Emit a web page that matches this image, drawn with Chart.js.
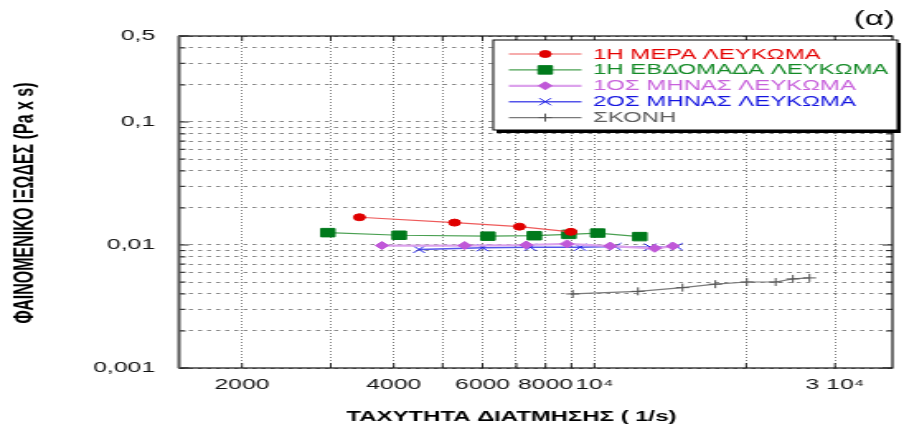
<!DOCTYPE html>
<html>
<head>
<meta charset="utf-8">
<script src="https://cdn.jsdelivr.net/npm/chart.js@4.4.1/dist/chart.umd.min.js"></script>
<style>
    html, body { margin: 0; padding: 0; background: #fff; overflow: hidden; }
    #chart { display: block; }
</style>
</head>
<body>
<!-- the original figure is stretched sideways, so the canvas is drawn narrow and widened by css -->
<canvas id="chart" width="548" height="432" style="width:904px;height:432px"></canvas>
<script>
// ── Data: shear rate (1/s) / apparent viscosity (Pa s) ──
const seriesLabels = ['1Η ΜΕΡΑ ΛΕΥΚΩΜΑ', '1Η ΕΒΔΟΜΑΔΑ ΛΕΥΚΩΜΑ', '1ΟΣ ΜΗΝΑΣ ΛΕΥΚΩΜΑ', '2ΟΣ ΜΗΝΑΣ ΛΕΥΚΩΜΑ', 'ΣΚΟΝΗ'];

const dayX    = [3420, 5280, 7100, 8980];
const dayY    = [0.0168, 0.0152, 0.0141, 0.0128];
const weekX   = [2960, 4100, 6150, 7600, 8900, 10150, 12300];
const weekY   = [0.0126, 0.0120, 0.0118, 0.0119, 0.0122, 0.0125, 0.0117];
const month1X = [3790, 5530, 7320, 8820, 10740, 13170, 14300];
const month1Y = [0.0099, 0.0099, 0.0100, 0.0102, 0.0098, 0.0094, 0.0098];
const month2X = [4490, 6000, 7460, 9370, 11000, 12900, 14560];
const month2Y = [0.0092, 0.0095, 0.0096, 0.0096, 0.0097, 0.0096, 0.0097];
const powderX = [9060, 12200, 14950, 17370, 20060, 22880, 24750, 26700];
const powderY = [0.0040, 0.0042, 0.0045, 0.0048, 0.0050, 0.0050, 0.0053, 0.0054];

const xTickValues = [2000, 3000, 4000, 5000, 6000, 7000, 8000, 9000, 10000, 20000, 30000];
const xTickLabels = ['2000', '', '4000', '', '6000', '', '8000', '', '10⁴', '', '3 10⁴'];
const yTickValues = [0.001, 0.002, 0.003, 0.004, 0.005, 0.006, 0.007, 0.008, 0.009,
                     0.01, 0.02, 0.03, 0.04, 0.05, 0.06, 0.07, 0.08, 0.09,
                     0.1, 0.2, 0.3, 0.4, 0.5];
const yTickLabels = ['0,001', '', '', '', '', '', '', '', '',
                     '0,01', '', '', '', '', '', '', '', '',
                     '0,1', '', '', '', '0,5'];

const legendTextColors = ['#e40000', '#138a26', '#c862dc', '#1414e0', '#5e5e5e'];

const FONT = '"Liberation Sans", Arial, sans-serif';

const zip = (xs, ys) => xs.map((x, i) => ({ x: x, y: ys[i] }));

function series(label, xs, ys, line, marker, style, radius, lineWidth) {
    return {
        label: label,
        data: zip(xs, ys),
        showLine: true,
        borderColor: line,
        borderWidth: lineWidth,
        pointStyle: style,
        pointRadius: radius,
        pointHoverRadius: radius,
        pointBackgroundColor: marker,
        pointBorderColor: marker,
        pointBorderWidth: 1,
    };
}

// frame, inside tick marks, titles
const framePlugin = {
    id: 'frame',
    afterDatasetsDraw(chart) {
        const { ctx, chartArea: a, scales: { x, y } } = chart;
        ctx.save();
        ctx.strokeStyle = '#222';
        ctx.lineWidth = 1;
        ctx.beginPath();
        y.ticks.forEach((t, i) => {
            const py = y.getPixelForValue(t.value);
            const len = yTickLabels[i] ? 6 : 4;
            ctx.moveTo(a.left, py); ctx.lineTo(a.left + len, py);
            ctx.moveTo(a.right, py); ctx.lineTo(a.right - len, py);
        });
        x.ticks.forEach(t => {
            const px = x.getPixelForValue(t.value);
            ctx.moveTo(px, a.top); ctx.lineTo(px, a.top + 5);
            ctx.moveTo(px, a.bottom); ctx.lineTo(px, a.bottom - 5);
        });
        ctx.stroke();

        ctx.lineWidth = 1.2;
        ctx.strokeStyle = '#111';
        ctx.strokeRect(a.left, a.top, a.right - a.left, a.bottom - a.top);
        ctx.lineWidth = 1.8;
        ctx.strokeStyle = '#555';
        ctx.beginPath();
        ctx.moveTo(a.left, a.top); ctx.lineTo(a.left, a.bottom);
        ctx.stroke();
        ctx.restore();
    },
    afterDraw(chart) {
        const ctx = chart.ctx;
        ctx.save();
        ctx.fillStyle = '#000';
        ctx.textAlign = 'center';
        ctx.textBaseline = 'middle';
        ctx.font = 'bold 14.5px ' + FONT;
        ctx.fillText('ΤΑΧΥΤΗΤΑ ΔΙΑΤΜΗΣΗΣ ( 1/s)', 310, 417);
        ctx.font = '20px ' + FONT;
        ctx.fillText('(α)', 530, 19);
        ctx.translate(15.5, 203);
        ctx.rotate(-Math.PI / 2);
        ctx.font = 'bold 16px ' + FONT;
        ctx.fillText('ΦΑΙΝΟΜΕΝΙΚΟ ΙΞΩΔΕΣ (Pa x s)', 0, 0);
        ctx.restore();
    }
};

// legend box with a line sample and the marker in its middle
const legendPlugin = {
    id: 'boxLegend',
    afterDraw(chart) {
        const ctx = chart.ctx;
        const L = 299, T = 40, R = 544, B = 130;
        ctx.save();
        ctx.fillStyle = '#000';
        ctx.fillRect(L + 2, T + 3, R - L, B - T);
        ctx.fillStyle = '#fff';
        ctx.fillRect(L, T, R - L, B - T);
        ctx.strokeStyle = '#000';
        ctx.lineWidth = 1;
        ctx.strokeRect(L, T, R - L, B - T);

        chart.data.datasets.forEach((ds, i) => {
            const yy = 54 + i * 15.9;
            ctx.strokeStyle = ds.borderColor;
            ctx.lineWidth = ds.borderWidth;
            ctx.beginPath();
            ctx.moveTo(308.5, yy); ctx.lineTo(352.5, yy);
            ctx.stroke();
            ctx.fillStyle = ds.pointBackgroundColor;
            ctx.strokeStyle = ds.pointBorderColor;
            ctx.lineWidth = 1;
            Chart.helpers.drawPoint(ctx, {
                pointStyle: ds.pointStyle, radius: ds.pointRadius, rotation: 0, borderWidth: 1
            }, 330.5, yy);
            ctx.fillStyle = legendTextColors[i];
            ctx.font = '14.5px ' + FONT;
            ctx.textAlign = 'left';
            ctx.textBaseline = 'middle';
            ctx.fillText(ds.label, 359.5, yy + 0.5);
        });
        ctx.restore();
    }
};

new Chart(document.getElementById('chart'), {
    type: 'scatter',
    data: {
        datasets: [
            series(seriesLabels[0], dayX, dayY, '#ee5a5a', '#e00000', 'circle', 3.5, 1.2),
            series(seriesLabels[1], weekX, weekY, '#4aa052', '#007a1c', 'rect', 6, 1.2),
            series(seriesLabels[2], month1X, month1Y, '#dca2ec', '#c058d8', 'rectRot', 4, 2.2),
            series(seriesLabels[3], month2X, month2Y, '#5454ea', '#1a1ae6', 'crossRot', 5, 1.5),
            series(seriesLabels[4], powderX, powderY, '#7a7a7a', '#555555', 'cross', 4, 1.2),
        ]
    },
    options: {
        responsive: false,
        animation: false,
        layout: { padding: { top: 36, right: 3, bottom: 0, left: 0 } },
        plugins: {
            legend: { display: false },
            tooltip: { enabled: false }
        },
        scales: {
            x: {
                type: 'logarithmic',
                min: 1500, max: 39000,
                afterBuildTicks: axis => { axis.ticks = xTickValues.map(v => ({ value: v })); },
                afterFit: axis => { axis.height = 64; },
                grid: { color: '#444', lineWidth: 0.7, drawTicks: false },
                border: { display: false, dash: [1, 2] },
                ticks: {
                    autoSkip: false, maxRotation: 0, padding: 8, color: '#111',
                    font: { family: FONT, size: 15 },
                    callback: (v, i) => xTickLabels[i]
                }
            },
            y: {
                type: 'logarithmic',
                min: 0.001, max: 0.5,
                afterBuildTicks: axis => { axis.ticks = yTickValues.map(v => ({ value: v })); },
                afterFit: axis => { axis.width = 108.5; },
                grid: { color: '#8a8a8a', lineWidth: 1, drawTicks: false },
                border: { display: false, dash: [2.5, 3] },
                ticks: {
                    autoSkip: false, padding: 14.5, color: '#111',
                    font: { family: FONT, size: 15 },
                    callback: (v, i) => yTickLabels[i]
                }
            }
        }
    },
    plugins: [framePlugin, legendPlugin]
});
</script>
</body>
</html>
